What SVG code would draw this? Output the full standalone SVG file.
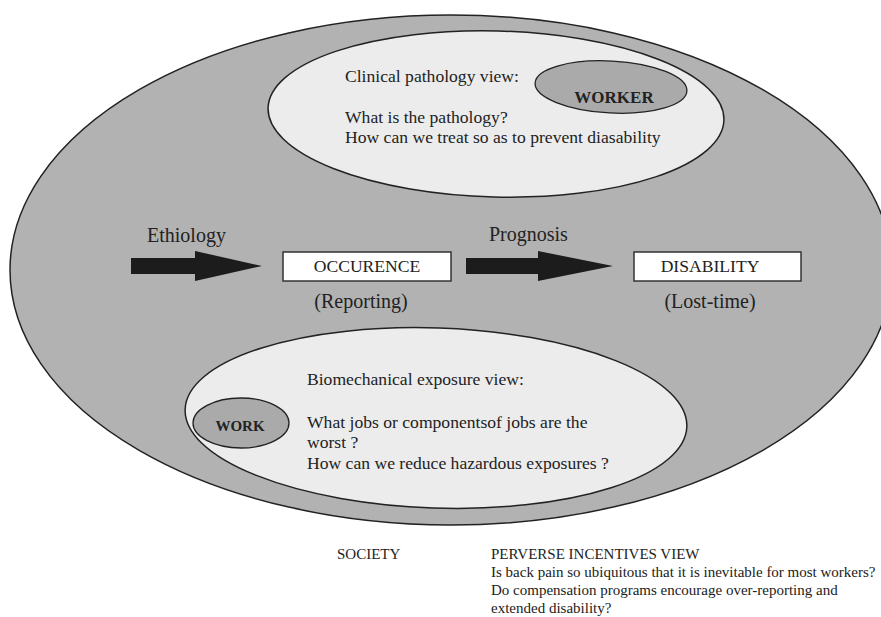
<svg xmlns="http://www.w3.org/2000/svg" width="881" height="617" viewBox="0 0 881 617">
<style>
text{font-family:"Liberation Serif","Times New Roman",serif;fill:#222}
.outer{fill:#b2b2b2;stroke:#222;stroke-width:1.5}
.light{fill:#ececec;stroke:#222;stroke-width:1.5}
.dark{fill:#aaaaaa;stroke:#222;stroke-width:1.3}
.box{fill:#fff;stroke:#333;stroke-width:1.5}
.arrow{fill:#1c1c1c}
.t18{font-size:17.6px}
.t20{font-size:20px}
.t15{font-size:15px}
.b{font-weight:bold}
.mid{text-anchor:middle}
</style>
<rect width="881" height="617" fill="#fff"/>
<g id="society">
<ellipse class="outer" cx="451" cy="270" rx="441" ry="255"/>
</g>
<g id="clinical-view">
<ellipse class="light" cx="496" cy="114" rx="228" ry="83" transform="rotate(1.5 496 114)"/>
<text class="t18" x="345" y="82">Clinical pathology view:</text>
<text class="t18" x="345" y="123">What is the pathology?</text>
<text class="t18" x="345" y="143">How can we treat so as to prevent diasability</text>
</g>
<g id="worker">
<ellipse class="dark" cx="611" cy="87" rx="76" ry="26" transform="rotate(3 611 87)"/>
<text class="b mid" x="614" y="103" font-size="17">WORKER</text>
</g>
<g id="biomechanical-view">
<ellipse class="light" cx="436" cy="418" rx="251" ry="90" transform="rotate(2 436 418)"/>
<text class="t18" x="307" y="385">Biomechanical exposure view:</text>
<text class="t18" x="307" y="428">What jobs or componentsof jobs are the</text>
<text class="t18" x="307" y="448">worst ?</text>
<text class="t18" x="307" y="469">How can we reduce hazardous exposures ?</text>
</g>
<g id="work">
<ellipse class="dark" cx="241" cy="423" rx="48" ry="25"/>
<text class="b mid" x="240" y="431" font-size="15">WORK</text>
</g>
<g id="occurence">
<rect class="box" x="283" y="252" width="168" height="29"/>
<text class="t18 mid" x="367" y="272">OCCURENCE</text>
<text class="t20 mid" x="361" y="308">(Reporting)</text>
</g>
<g id="disability">
<rect class="box" x="634" y="252" width="167" height="29"/>
<text class="t18 mid" x="710" y="272">DISABILITY</text>
<text class="t20 mid" x="710" y="308">(Lost-time)</text>
</g>
<g id="connectors">
<polygon class="arrow" points="131,258 195,258 195,251 262,266 195,281 195,274 131,274"/>
<text class="t20" x="147" y="242">Ethiology</text>
<polygon class="arrow" points="466,258 538,258 538,251 613,266 538,281 538,274 466,274"/>
<text class="t20" x="489" y="241">Prognosis</text>
</g>
<g id="perverse-incentives">
<text class="t15" x="337" y="559">SOCIETY</text>
<text class="t15" x="491" y="559">PERVERSE INCENTIVES VIEW</text>
<text class="t15" x="491" y="577">Is back pain so ubiquitous that it is inevitable for most workers?</text>
<text class="t15" x="491" y="595">Do compensation programs encourage over-reporting and</text>
<text class="t15" x="491" y="613">extended disability?</text>
</g>
</svg>
